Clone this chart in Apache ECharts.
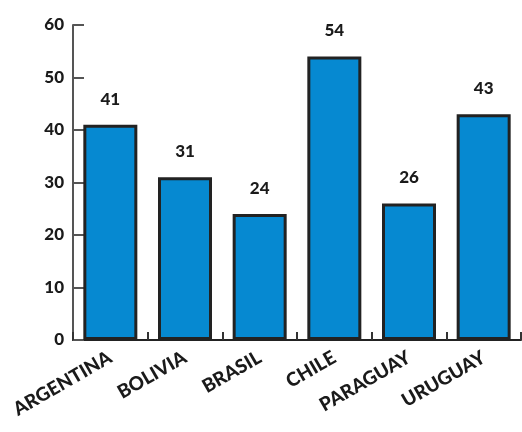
<!DOCTYPE html>
<html><head><meta charset="utf-8">
<script src="https://cdn.jsdelivr.net/npm/echarts@6/dist/echarts.min.js"></script>
<style>html,body{margin:0;padding:0;background:#fff}#c{width:522px;height:432px}</style>
</head><body><div id="c"></div>
<script>
const categories = ['ARGENTINA','BOLIVIA','BRASIL','CHILE','PARAGUAY','URUGUAY'];
const values = [41, 31, 24, 54, 26, 43];
const yTicks = [0, 10, 20, 30, 40, 50, 60];

const FONT = 'Lato';
const chart = echarts.init(document.getElementById('c'), null, {renderer:'canvas'});
chart.setOption({
  animation: false,
  backgroundColor: '#fff',
  grid: {left: 73, right: 1, top: 25, bottom: 92, containLabel: false},
  xAxis: {
    type: 'category',
    data: categories,
    axisLine: {lineStyle: {color: '#222', width: 2}},
    axisTick: {show: true, inside: true, length: 8, lineStyle: {color: '#333', width: 2}},
    axisLabel: {rotate: 30, interval: 0, color: '#1a1a1a', fontFamily: FONT, fontWeight: 900, fontSize: 19, margin: 16}
  },
  yAxis: {
    type: 'value', min: yTicks[0], max: yTicks[yTicks.length-1], interval: 10,
    axisLine: {show: true, lineStyle: {color: '#555', width: 2}},
    axisTick: {show: true, inside: true, length: 11, lineStyle: {color: '#555', width: 2}},
    splitLine: {show: false},
    axisLabel: {color: '#1a1a1a', fontFamily: FONT, fontWeight: 900, fontSize: 17, margin: 9}
  },
  series: [{
    type: 'bar',
    data: values,
    barWidth: 54,
    itemStyle: {color: '#0689D1', borderColor: '#222', borderWidth: 3},
    label: {show: true, position: 'top', distance: 17, color: '#1a1a1a', fontFamily: FONT, fontWeight: 900, fontSize: 17}
  }]
});
</script></body></html>
